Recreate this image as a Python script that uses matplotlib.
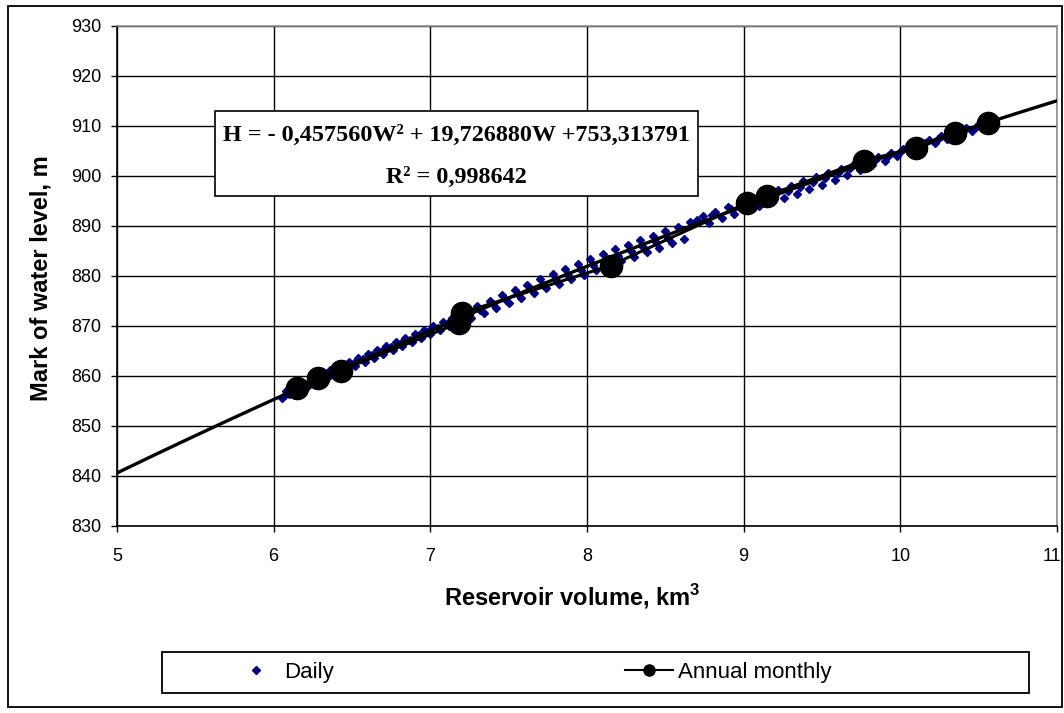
import numpy as np
import matplotlib.pyplot as plt
import matplotlib.transforms as mtransforms
from matplotlib.lines import Line2D
from matplotlib.patches import Rectangle

plt.rcParams['font.family'] = ['Liberation Sans', 'DejaVu Sans']
plt.rcParams['mathtext.fontset'] = 'custom'
plt.rcParams['mathtext.rm'] = 'Liberation Sans'
plt.rcParams['mathtext.bf'] = 'Liberation Sans:bold'

# Daily observations - filling branch (upper), middle and drawdown branch (lower)
daily_w_up = [6.08, 6.12, 6.18, 6.24, 6.30, 6.36, 6.42, 6.48, 6.54, 6.60, 6.66, 6.72,
              6.78, 6.84, 6.90, 6.96, 7.02, 7.08, 7.14, 7.22, 7.30, 7.38, 7.46, 7.54,
              7.62, 7.70, 7.78, 7.86, 7.94, 8.02, 8.10, 8.18, 8.26, 8.34, 8.42, 8.50,
              8.58, 8.66, 8.74, 8.82, 8.90, 8.98, 9.06, 9.14, 9.22, 9.30, 9.38, 9.46,
              9.54, 9.62, 9.70, 9.78, 9.86, 9.94, 10.02, 10.10, 10.18, 10.26, 10.34,
              10.42, 10.50, 10.58]
daily_h_up = [857.0, 857.9, 858.6, 859.6, 860.4, 861.2, 862.0, 862.8, 863.6, 864.4, 865.2, 866.0,
              866.8, 867.6, 868.4, 869.2, 870.0, 870.8, 871.6, 872.8, 873.9, 875.0, 876.1, 877.2,
              878.2, 879.3, 880.3, 881.3, 882.3, 883.3, 884.3, 885.3, 886.2, 887.1, 888.0, 888.9,
              889.8, 890.7, 891.9, 892.8, 893.7, 894.6, 895.5, 896.4, 897.2, 898.0, 898.9, 899.7,
              900.5, 901.3, 902.1, 903.0, 903.8, 904.6, 905.4, 906.3, 907.1, 907.9, 908.7,
              909.5, 910.3, 911.2]
daily_w_mid = [6.07, 6.14, 6.20, 6.27, 6.33, 6.39, 6.45, 6.51, 6.57, 6.63, 6.69, 6.75,
               6.81, 6.87, 6.93, 6.99, 7.05, 7.11, 7.17, 7.24, 7.32, 7.40, 7.48, 7.56,
               7.64, 7.72, 7.80, 7.88, 7.96, 8.04, 8.12, 8.20, 8.28, 8.36, 8.44, 8.52,
               8.70, 8.80, 8.92, 9.04, 9.12, 9.20, 9.28, 9.36, 9.44, 9.52, 9.60, 9.68,
               9.76, 9.84, 9.92, 10.00, 10.08, 10.16, 10.24, 10.32, 10.40, 10.48, 10.56]
daily_h_mid = [856.2, 857.4, 858.3, 859.1, 860.1, 860.8, 861.7, 862.5, 863.3, 864.1, 864.9, 865.8,
               866.6, 867.2, 868.1, 868.9, 869.6, 870.5, 871.2, 872.2, 873.2, 874.3, 875.2, 876.3,
               877.3, 878.2, 879.2, 880.2, 881.2, 882.1, 883.1, 884.0, 884.9, 885.8, 886.7, 887.6,
               891.2, 892.2, 893.4, 894.6, 895.6, 896.4, 897.0, 897.8, 898.8, 899.6, 900.5, 901.5,
               902.3, 903.1, 904.0, 904.8, 905.6, 906.5, 907.3, 908.0, 908.9, 909.7, 910.6]
daily_w_lo = [6.05, 6.10, 6.16, 6.22, 6.28, 6.34, 6.40, 6.46, 6.52, 6.58, 6.64, 6.70,
              6.76, 6.82, 6.88, 6.94, 7.00, 7.06, 7.12, 7.18, 7.26, 7.34, 7.42, 7.50,
              7.58, 7.66, 7.74, 7.82, 7.90, 7.98, 8.06, 8.14, 8.22, 8.30, 8.38, 8.46,
              8.54, 8.62, 8.78, 8.86, 8.94, 9.02, 9.10, 9.18, 9.26, 9.34, 9.42, 9.50,
              9.58, 9.66, 9.74, 9.82, 9.90, 9.98, 10.06, 10.14, 10.22, 10.30, 10.38,
              10.46, 10.54, 10.60]
daily_h_lo = [855.6, 856.3, 857.1, 857.9, 858.7, 859.5, 860.3, 861.1, 861.9, 862.7, 863.5, 864.3,
              865.1, 865.9, 866.7, 867.5, 868.3, 869.1, 869.9, 870.6, 871.6, 872.6, 873.6, 874.6,
              875.6, 876.5, 877.5, 878.4, 879.3, 880.2, 881.1, 882.0, 882.9, 883.8, 884.7, 885.6,
              886.5, 887.4, 890.6, 891.5, 892.4, 893.2, 894.0, 894.8, 895.6, 896.4, 897.3, 898.2,
              899.2, 900.2, 901.2, 902.1, 903.0, 903.9, 904.8, 905.7, 906.5, 907.3, 908.1,
              908.9, 909.8, 910.4]

# Annual monthly values
monthly_w = [6.15, 6.28, 6.43, 7.18, 7.20, 8.15, 9.02, 9.15, 9.77, 10.10, 10.35, 10.56]
monthly_h = [857.5, 859.5, 861.0, 870.5, 872.5, 882.0, 894.5, 896.0, 903.0, 905.5, 908.5, 910.5]

# polynomial trend line printed on the chart
trend_coef = [-0.457560, 19.726880, 753.313791]
trend_range = [5.0, 11.0]

fig = plt.figure(figsize=(10.64, 7.13), dpi=100)
ax = fig.add_axes([117/1064, (713-525.5)/713, 940/1064, 500/713])

daily_w = daily_w_up + daily_w_mid + daily_w_lo
daily_h = daily_h_up + daily_h_mid + daily_h_lo
ax.plot(daily_w, daily_h, linestyle='none', marker='D', markersize=4.5,
        color='#000080', zorder=3)
tw = np.linspace(trend_range[0], trend_range[1], 200)
ax.plot(tw, np.polyval(trend_coef, tw), color='black', lw=2.4, zorder=4)
ax.plot(monthly_w, monthly_h, color='black', lw=2.2, marker='o', markersize=16, zorder=5)

ax.set_xlim(5, 11)
ax.set_ylim(830, 930)
ax.set_xticks(range(5, 12))
ax.set_yticks(range(830, 931, 10))
ax.grid(True, color='black', lw=1.0, zorder=1)
ax.set_axisbelow(True)
ax.tick_params(direction='out', length=4, width=1, colors='black', labelsize=13)
ax.tick_params(axis='x', pad=12)
ax.tick_params(axis='y', pad=7)
for s in ['left', 'bottom']:
    ax.spines[s].set_color('black')
    ax.spines[s].set_linewidth(1.2)
for s in ['top', 'right']:
    ax.spines[s].set_color('#909090')
    ax.spines[s].set_linewidth(1.2)

# last x label sits on the right edge, nudge it in a little
last = ax.get_xticklabels()[-1]
last.set_transform(last.get_transform() +
                   mtransforms.ScaledTranslation(-5/100, 0, fig.dpi_scale_trans))

# equation box
ax.add_patch(Rectangle((0.104, 0.660), 0.514, 0.168, transform=ax.transAxes,
                       facecolor='white', edgecolor='black', lw=1.2, zorder=6))
ax.text(0.361, 0.780, 'H = - 0,457560W² + 19,726880W +753,313791', transform=ax.transAxes,
        ha='center', va='center', fontsize=17.4, fontweight='bold',
        family=['Liberation Serif', 'DejaVu Serif'], zorder=7)
ax.text(0.361, 0.697, 'R² = 0,998642', transform=ax.transAxes,
        ha='center', va='center', fontsize=17.4, fontweight='bold',
        family=['Liberation Serif', 'DejaVu Serif'], zorder=7)

fig.text(572/1064, 1 - 597/713, r'Reservoir volume, km$^{\mathbf{3}}$', ha='center',
         va='center', fontsize=17, fontweight='bold')
fig.text(41/1064, 1 - 278/713, 'Mark of water level, m', ha='center', va='center',
         rotation=90, fontsize=17, fontweight='bold')

# legend
handles = [Line2D([], [], linestyle='none', marker='D', markersize=4, color='#000080'),
           Line2D([], [], color='black', lw=1.5, marker='o', markersize=8)]
fig.legend(handles, ['Daily', 'Annual monthly'], loc='center left',
           bbox_to_anchor=(232/1064, 1 - 672.5/713), ncol=2, frameon=False,
           fontsize=16, handlelength=2.16, handletextpad=0.2, columnspacing=13.1,
           borderpad=0, borderaxespad=0)
fig.patches.append(Rectangle((162/1064, 1 - 693/713), 867/1064, 41/713,
                             transform=fig.transFigure, fill=False, edgecolor='black', lw=1.3))

# outer chart frame
fig.patches.append(Rectangle((8/1064, 1 - 707/713), 1054/1064, 701/713,
                             transform=fig.transFigure, fill=False, edgecolor='black', lw=1.3))

fig.savefig('out.png', dpi=100)
